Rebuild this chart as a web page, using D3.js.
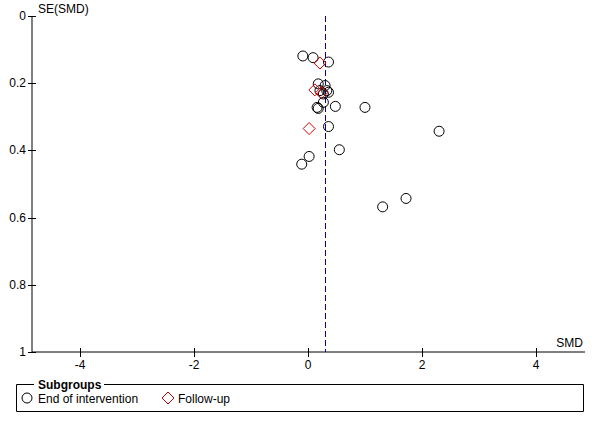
<!DOCTYPE html>
<html>
<head>
<meta charset="utf-8">
<script src="https://cdn.jsdelivr.net/npm/d3@7"></script>
<style>
  body { margin: 0; background: #fff; }
  text { font-family: "Liberation Sans", Arial, sans-serif; font-size: 12px; fill: #000; }
</style>
</head>
<body>
<div id="chart"></div>
<script>
// データ: 終了時 (End of intervention)
const endSmd = [-0.09, 0.09, 0.36, 0.18, 0.30, 0.21, 0.33, 0.27, 0.36, 0.27, 0.18, 0.16, 0.48, 1.00, 0.36, 0.55, 2.30, 0.02, -0.11, 1.31, 1.72];
const endSe  = [0.119, 0.124, 0.137, 0.202, 0.207, 0.222, 0.222, 0.232, 0.227, 0.257, 0.275, 0.272, 0.269, 0.272, 0.329, 0.398, 0.343, 0.418, 0.441, 0.568, 0.543];
// データ: フォローアップ (Follow-up)
const fuSmd = [0.21, 0.12, 0.24, 0.02];
const fuSe  = [0.140, 0.220, 0.228, 0.335];
const pooled = 0.30;
const xTicks = [-4, -2, 0, 2, 4];
const yTicks = [0, 0.2, 0.4, 0.6, 0.8, 1];

const width = 600, height = 428;
const svg = d3.select("#chart").append("svg")
    .attr("width", width)
    .attr("height", height);

const x = d3.scaleLinear().domain([-4.842, 4.86]).range([32, 585]);
const y = d3.scaleLinear().domain([0, 1]).range([16, 352]);

// 軸線
svg.append("line").attr("x1", 32).attr("x2", 32).attr("y1", y(0)).attr("y2", y(1)).attr("stroke", "#000");
svg.append("line").attr("x1", 32).attr("x2", 585).attr("y1", y(1)).attr("y2", y(1)).attr("stroke", "#000");

// Y軸目盛り
yTicks.forEach(t => {
    svg.append("line").attr("x1", 28).attr("x2", 36)
        .attr("y1", Math.round(y(t)) + 0.5).attr("y2", Math.round(y(t)) + 0.5).attr("stroke", "#000");
    svg.append("text").attr("x", 26).attr("y", y(t) + 4)
        .attr("text-anchor", "end").text(d3.format("~g")(t));
});

// X軸目盛り
xTicks.forEach(t => {
    svg.append("line").attr("x1", Math.round(x(t)) + 0.5).attr("x2", Math.round(x(t)) + 0.5)
        .attr("y1", 348).attr("y2", 357).attr("stroke", "#000");
    svg.append("text").attr("x", x(t)).attr("y", 369)
        .attr("text-anchor", "middle").text(t);
});

svg.append("text").attr("x", 38).attr("y", 13).text("SE(SMD)");
svg.append("text").attr("x", 583).attr("y", 347).attr("text-anchor", "end").text("SMD");

// 推定値の点線
svg.append("line")
    .attr("x1", Math.round(x(pooled)) + 0.5).attr("x2", Math.round(x(pooled)) + 0.5)
    .attr("y1", y(0)).attr("y2", y(1))
    .attr("stroke", "#0000aa").attr("stroke-dasharray", "6,3");

const diamond = (cx, cy, r) => `M${cx},${cy - r}L${cx + r},${cy}L${cx},${cy + r}L${cx - r},${cy}Z`;

// 点
svg.selectAll("circle.end")
    .data(d3.zip(endSmd, endSe))
    .enter().append("circle")
    .attr("class", "end")
    .attr("cx", d => x(d[0]))
    .attr("cy", d => y(d[1]))
    .attr("r", 5)
    .attr("fill", "none")
    .attr("stroke", "#000");

svg.selectAll("path.fu")
    .data(d3.zip(fuSmd, fuSe))
    .enter().append("path")
    .attr("class", "fu")
    .attr("d", d => diamond(x(d[0]), y(d[1]), 6))
    .attr("fill", "none")
    .attr("stroke", "#cc0000");

// 凡例
svg.append("path")
    .attr("d", "M34,384.5H16.5V411.5H583.5V384.5H104")
    .attr("fill", "none").attr("stroke", "#000");
svg.append("text").attr("x", 38).attr("y", 389)
    .style("font-weight", "bold").attr("fill", "#333").text("Subgroups");
svg.append("circle").attr("cx", 27).attr("cy", 398).attr("r", 5)
    .attr("fill", "none").attr("stroke", "#000");
svg.append("text").attr("x", 38).attr("y", 403).attr("fill", "#333").text("End of intervention");
svg.append("path").attr("d", diamond(168, 398, 6))
    .attr("fill", "none").attr("stroke", "#cc0000");
svg.append("text").attr("x", 178).attr("y", 403).attr("fill", "#333").text("Follow-up");
</script>
</body>
</html>
